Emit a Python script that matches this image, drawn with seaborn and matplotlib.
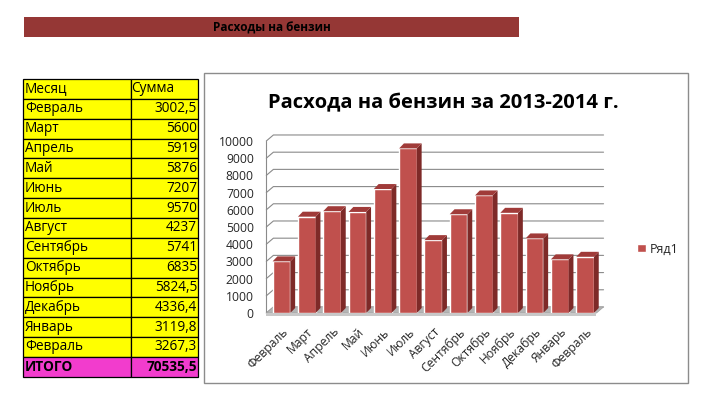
import matplotlib
matplotlib.use('Agg')
import matplotlib.pyplot as plt
from matplotlib.patches import Rectangle, Polygon
import seaborn as sns
import numpy as np

sns.set_style('white')
plt.rcParams['font.family'] = ['Open Sans', 'DejaVu Sans']

# данные из таблицы
months = ['Февраль', 'Март', 'Апрель', 'Май', 'Июнь', 'Июль', 'Август',
          'Сентябрь', 'Октябрь', 'Ноябрь', 'Декабрь', 'Январь', 'Февраль']
amounts = [3002.5, 5600, 5919, 5876, 7207, 9570, 4237,
           5741, 6835, 5824.5, 4336.4, 3119.8, 3267.3]
amount_labels = ['3002,5', '5600', '5919', '5876', '7207', '9570', '4237',
                 '5741', '6835', '5824,5', '4336,4', '3119,8', '3267,3']
total_label = '70535,5'
y_ticks = list(range(0, 10001, 1000))

W, H = 702, 415
fig = plt.figure(figsize=(W / 100, H / 100), dpi=100)

# фоновая ось в пикселях: заголовок, таблица, рамка диаграммы
bg = fig.add_axes([0, 0, 1, 1])
bg.set_xlim(0, W)
bg.set_ylim(H, 0)
bg.axis('off')

# полоса заголовка
bg.add_patch(Rectangle((24, 17), 495, 20, facecolor='#953735', edgecolor='none'))
bg.text(272, 27.5, 'Расходы на бензин', ha='center', va='center',
        fontsize=8.5, fontweight='bold', color='black')

# таблица
x_left, x_mid, x_right = 23, 130.5, 198
row_h = 19.85
top = 79
rows = [('Месяц', 'Сумма')] + list(zip(months, amount_labels)) + [('ИТОГО', total_label)]
for i, (m, s) in enumerate(rows):
    y0 = top + i * row_h
    is_total = m == 'ИТОГО'
    fc = '#f23ccd' if is_total else '#ffff00'
    bg.add_patch(Rectangle((x_left, y0), x_mid - x_left, row_h, facecolor=fc,
                           edgecolor='black', linewidth=0.9))
    bg.add_patch(Rectangle((x_mid, y0), x_right - x_mid, row_h, facecolor=fc,
                           edgecolor='black', linewidth=0.9))
    fw = 'bold' if is_total else 'normal'
    bg.text(x_left + 2, y0 + row_h / 2, m, ha='left', va='center',
            fontsize=9.8, fontweight=fw, color='black')
    if i == 0:
        bg.text(x_mid + 1, y0 + row_h / 2, s, ha='left', va='center',
                fontsize=9.8, color='black')
    else:
        bg.text(x_right - 1, y0 + row_h / 2, s, ha='right', va='center',
                fontsize=9.8, fontweight=fw, color='black')

# рамка диаграммы
bg.add_patch(Rectangle((203.5, 73), 484, 310, facecolor='white',
                       edgecolor='#8c8c8c', linewidth=1.0))
bg.text(443, 103, 'Расхода на бензин за 2013-2014 г.', ha='center', va='center',
        fontsize=14.5, fontweight='bold', color='black')

# область построения
x0_px, y0_px = 266.3, 313
step_px, unit_px = 25.3, 0.0172
xlim = (-0.6, 12.9)
ylim = (0, 10600)
ax = fig.add_axes([x0_px / W, (H - y0_px) / H,
                   (xlim[1] - xlim[0]) * step_px / W,
                   (ylim[1] - ylim[0]) * unit_px / H])
ax.patch.set_alpha(0)

sns.barplot(x=np.arange(len(amounts)), y=amounts, color='#c0504d', saturation=1,
            width=0.7, ax=ax, label='Ряд1', zorder=3)

# стены и сетка (псевдо-3D)
wall_dx, wall_dy = 0.28, 350
wall_right = 12.45
grid_c = '#8a8a8a'
ax.plot([xlim[0], xlim[0]], [0, 10000], color=grid_c, lw=0.8, zorder=1, clip_on=False)
for v in y_ticks:
    ax.plot([xlim[0], xlim[0] + wall_dx, wall_right + wall_dx],
            [v, v + wall_dy, v + wall_dy], color=grid_c, lw=0.8, zorder=1, clip_on=False)

# пол
ax.add_patch(Polygon([(xlim[0], 0), (wall_right, 0), (wall_right + wall_dx, wall_dy),
                      (xlim[0] + wall_dx, wall_dy)], closed=True,
                     facecolor='#b4b4b4', edgecolor='#a0a0a0', lw=0.5, zorder=2,
                     clip_on=False))
ax.add_patch(Polygon([(xlim[0], -180), (wall_right, -180), (wall_right, 0), (xlim[0], 0)],
                     closed=True, facecolor='#c8c8c8', edgecolor='none', zorder=2,
                     clip_on=False))

# боковые и верхние грани столбцов
bar_dx, bar_dy = 0.19, 290
for p in list(ax.patches):
    if not isinstance(p, Rectangle) or p.get_height() < 100:
        continue
    bx, bw, bh = p.get_x(), p.get_width(), p.get_height()
    ax.add_patch(Polygon([(bx + bw, 0), (bx + bw + bar_dx, bar_dy),
                          (bx + bw + bar_dx, bh + bar_dy), (bx + bw, bh)],
                         closed=True, facecolor='#7e2a28', edgecolor='none',
                         zorder=3, clip_on=False))
    ax.add_patch(Polygon([(bx, bh), (bx + bar_dx, bh + bar_dy),
                          (bx + bw + bar_dx, bh + bar_dy), (bx + bw, bh)],
                         closed=True, facecolor='#a03b39', edgecolor='none',
                         zorder=3, clip_on=False))

ax.set_xlim(*xlim)
ax.set_ylim(*ylim)
ax.set_yticks(y_ticks)
ax.set_yticklabels([str(v) for v in y_ticks], fontsize=8.7)
ax.set_xticks(np.arange(len(months)))
ax.set_xticklabels(months, rotation=45, ha='right', rotation_mode='anchor', fontsize=8.7)
ax.tick_params(axis='y', length=0, pad=9)
ax.tick_params(axis='x', length=0, pad=9)
for s in ax.spines.values():
    s.set_visible(False)
ax.set_xlabel('')
ax.set_ylabel('')
ax.grid(False)

ax.legend(loc='center left', bbox_to_anchor=(626 / W, 1 - 249 / H),
          bbox_transform=fig.transFigure, frameon=False, fontsize=9,
          handlelength=0.7, handleheight=0.7, handletextpad=0.3)

fig.savefig('out.png', dpi=100, facecolor='white')
